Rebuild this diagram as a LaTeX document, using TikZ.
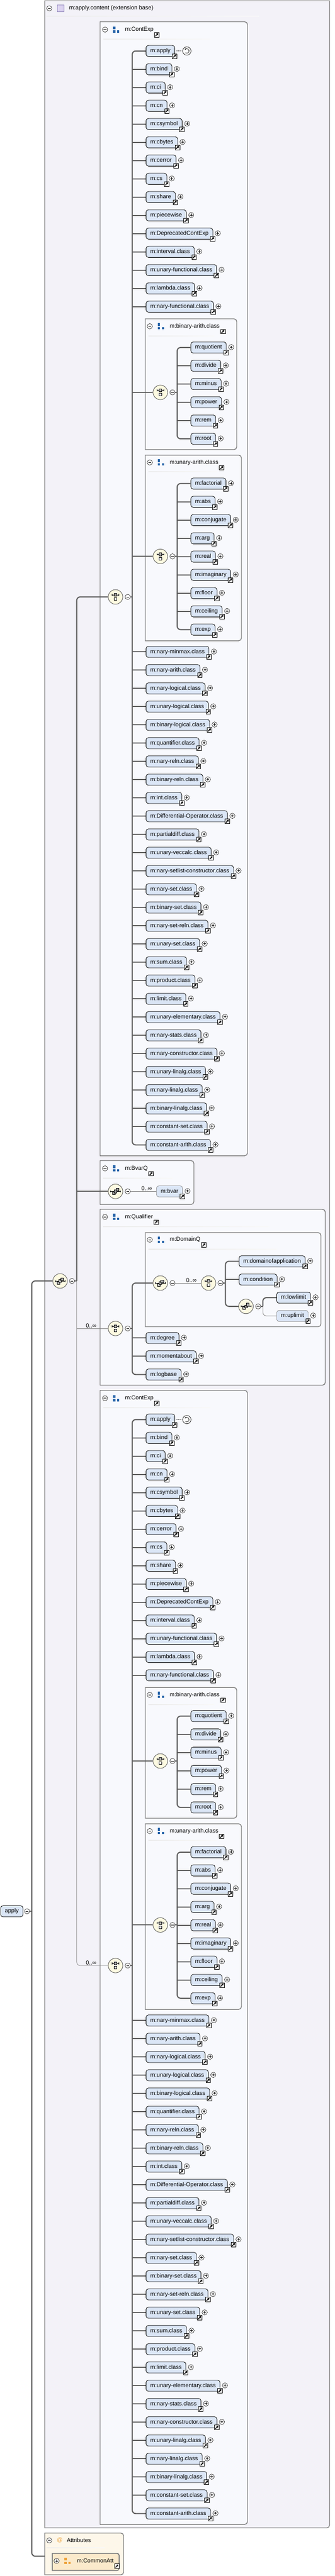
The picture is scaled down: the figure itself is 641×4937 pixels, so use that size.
\documentclass[tikz,border=0pt]{standalone}
\usepackage{fontspec}
\setmainfont{Liberation Sans}
\usetikzlibrary{arrows.meta}

\definecolor{outerfill}{HTML}{F3F2F8}
\definecolor{grpfill}{HTML}{F8F9FD}
\definecolor{elemfill}{HTML}{DBE6F6}
\definecolor{compfill}{HTML}{FDFAE1}
\definecolor{linegray}{HTML}{5F5F5F}
\definecolor{boxgray}{HTML}{808080}
\definecolor{grpblue}{HTML}{2B67AB}
\definecolor{attfill}{HTML}{FDF7EA}
\definecolor{attinner}{HTML}{FBEACB}
\definecolor{attorange}{HTML}{EDA23A}
\definecolor{lavfill}{HTML}{DCD3F0}
\definecolor{lavdraw}{HTML}{8E84B8}

\tikzset{
  every node/.style={font=\fontsize{8.25}{10}\selectfont},
  elem/.style={draw=black, line width=0.6pt, fill=elemfill, rounded corners=3.5pt,
    minimum height=16pt, inner xsep=6.2pt, inner ysep=0pt, text height=6.2pt, text depth=1.8pt, anchor=west},
  optelem/.style={elem, draw=boxgray, line width=0.45pt},
  hdr/.style={anchor=west, inner sep=0pt},
  mult/.style={anchor=south east, inner sep=1pt},
  comp/.style={circle, draw=linegray, line width=0.7pt, fill=compfill, minimum size=21pt, inner sep=0pt},
  minusc/.style={circle, draw=black, fill=white, line width=0.4pt, minimum size=7.5pt, inner sep=0pt,
    path picture={\draw[line width=0.5pt] ([xshift=-2pt]path picture bounding box.center) -- ([xshift=2pt]path picture bounding box.center);}},
  plusc/.style={minusc,
    path picture={\draw[line width=0.5pt] ([xshift=-2pt]path picture bounding box.center) -- ([xshift=2pt]path picture bounding box.center)
      ([yshift=-2pt]path picture bounding box.center) -- ([yshift=2pt]path picture bounding box.center);}},
  conn/.style={draw=linegray, line width=1.6pt, rounded corners=5pt},
  optconn/.style={draw=gray, line width=0.6pt, rounded corners=5pt},
  grpbox/.style={draw=boxgray, line width=1.1pt, fill=grpfill},
  pics/lnk/.style={code={
    \draw[fill=white, line width=0.5pt] (-3.3pt,-3.3pt) rectangle (3.3pt,3.3pt);
    \draw[line width=1.1pt, -{Triangle[length=2.6pt,width=3.4pt]}] (-2pt,-2pt) -- (2.3pt,2.3pt);}},
  pics/grpicon/.style={code={
    \fill[#1] (-4.5pt,0.6pt) rectangle (-1.2pt,4.5pt);
    \fill[#1] (-4.5pt,-4.5pt) rectangle (-1.2pt,-1.2pt);
    \fill[#1] (1.2pt,-4.5pt) rectangle (4.5pt,-1.2pt);}},
  pics/choiceicon/.style={code={
    \draw[line width=0.5pt] (-5pt,3pt) -- (5pt,3pt) (-5pt,1.8pt) -- (-5pt,4.2pt) (5pt,1.8pt) -- (5pt,4.2pt);
    \draw[fill=gray!60, line width=0.45pt] (-1.9pt,1.1pt) rectangle (1.9pt,4.9pt);
    \draw[fill=white, line width=0.45pt] (-1.9pt,-5pt) rectangle (1.9pt,-1.2pt);}},
  pics/seqicon/.style={code={
    \draw[line width=0.5pt] (-7pt,0pt) -- (7pt,0pt) (-7pt,-1.2pt) -- (-7pt,1.2pt) (7pt,-1.2pt) -- (7pt,1.2pt);
    \foreach \d in {-2.6pt,0pt,2.6pt}
      {\draw[fill=gray!60, line width=0.45pt, shift={(\d,\d)}] (-1.9pt,-1.9pt) rectangle (1.9pt,1.9pt);}}},
}

% element box with link icon and plus sign
\newcommand{\elm}[4][elem]{%
  \node[#1] (#2) at #3 {#4};
  \pic at ([xshift=-0.6pt,yshift=1pt]#2.south east) {lnk};
  \node[plusc] (#2-p) at ([xshift=6.8pt,yshift=0.5pt]#2.east) {};}

% group header: minus, icon, title, link
\newcommand{\grphdr}[4]{%
  \node[minusc] (#1-m) at #2 {};
  \pic at ([xshift=16.1pt]#1-m.center) {grpicon=#4};
  \node[hdr] (#1) at ([xshift=28.5pt]#1-m.center) {#3};
  \pic at ([xshift=4.5pt,yshift=-7.5pt]#1.east) {lnk};}

% shaded rule under a header
\newcommand{\hsep}[3]{%
  \shade[left color=gray!15, middle color=gray!90, right color=gray!5] (#1,#3-0.7) rectangle (#2,#3+0.7);}

% the m:ContExp group, #1 prefix, #2 top
\newcommand{\contexp}[2]{%
\begin{scope}[shift={(0,#2)}]
  \draw[grpbox] (191.5,0) [rounded corners=4pt] -- (473.5,0) -- (473.5,2173.3) [sharp corners] -- (191.5,2173.3) -- cycle;
  \grphdr{#1-hd}{(201,15)}{m:ContExp}{grpblue}
  \hsep{197.7}{403}{33.3}
  \node[comp] (#1-ch) at (221,1102.3) {};
  \pic at (#1-ch) {choiceicon};
  \node[minusc] (#1-chm) at (244.4,1102.3) {};
  % first run of elements
  \node[elem] (#1-a1) at (279,56) {m:apply};
  \pic at ([xshift=-0.6pt,yshift=1pt]#1-a1.south east) {lnk};
  \draw[densely dotted, line width=0.9pt] ([xshift=2.2pt]#1-a1.east) -- ([xshift=9.5pt]#1-a1.east);
  \node[circle, draw=black, line width=0.5pt, fill=white, minimum size=12pt, inner sep=0pt] (#1-rec) at ([xshift=17pt]#1-a1.east) {};
  \draw[line width=0.5pt, {Stealth[length=2pt,width=2.2pt]}-] ([shift={(-2.8pt,1.6pt)}]#1-rec.center) arc[start angle=150, end angle=-130, radius=3.2pt];
  \foreach \t [count=\i from 2] in {m:bind,m:ci,m:cn,m:csymbol,m:cbytes,m:cerror,m:cs,m:share,m:piecewise,
      m:DeprecatedContExp,m:interval.class,m:unary-functional.class,m:lambda.class,m:nary-functional.class}
    {\elm{#1-a\i}{(279,{21+35*\i})}{\t}}
  % binary arith
  \draw[grpbox] (278,569.3) [rounded corners=4pt] -- (453,569.3) -- (453,820) [sharp corners] -- (278,820) -- cycle;
  \grphdr{#1-bh}{(286.6,583.6)}{m:binary-arith.class}{grpblue}
  \hsep{284}{410}{602}
  \node[comp] (#1-bc) at (306.8,710.3) {};
  \pic at (#1-bc) {choiceicon};
  \node[minusc] (#1-bcm) at (330,710.3) {};
  \foreach \t [count=\i] in {m:quotient,m:divide,m:minus,m:power,m:rem,m:root}
    {\elm{#1-q\i}{(364.7,{589.3+35*\i})}{\t}}
  \draw[conn] (#1-q1.west) -- (339,624.3) -- (339,799.3) -- (#1-q6.west);
  \foreach \i in {2,...,5} {\draw[conn] (339,{589.3+35*\i}) -- (#1-q\i.west);}
  \draw[conn] (#1-bcm.east) -- (339,710.3);
  % unary arith
  \draw[grpbox] (278,830.6) [rounded corners=4pt] -- (462,830.6) -- (462,1186.3) [sharp corners] -- (278,1186.3) -- cycle;
  \grphdr{#1-uh}{(286.6,844.6)}{m:unary-arith.class}{grpblue}
  \hsep{284}{415}{862.3}
  \node[comp] (#1-uc) at (306.8,1024.6) {};
  \pic at (#1-uc) {choiceicon};
  \node[minusc] (#1-ucm) at (330,1024.6) {};
  \foreach \t [count=\i] in {m:factorial,m:abs,m:conjugate,m:arg,m:real,m:imaginary,m:floor,m:ceiling,m:exp}
    {\elm{#1-u\i}{(364.7,{850+35*\i})}{\t}}
  \draw[conn] (#1-u1.west) -- (339,885) -- (339,1165) -- (#1-u9.west);
  \foreach \i in {2,...,8} {\draw[conn] (339,{850+35*\i}) -- (#1-u\i.west);}
  \draw[conn] (#1-ucm.east) -- (339,1024.6);
  % second run of elements
  \foreach \t [count=\i] in {m:nary-minmax.class,m:nary-arith.class,m:nary-logical.class,m:unary-logical.class,
      m:binary-logical.class,m:quantifier.class,m:nary-reln.class,m:binary-reln.class,m:int.class,
      m:Differential-Operator.class,m:partialdiff.class,m:unary-veccalc.class,m:nary-setlist-constructor.class,
      m:nary-set.class,m:binary-set.class,m:nary-set-reln.class,m:unary-set.class,m:sum.class,m:product.class,
      m:limit.class,m:unary-elementary.class,m:nary-stats.class,m:nary-constructor.class,m:unary-linalg.class,
      m:nary-linalg.class,m:binary-linalg.class,m:constant-set.class,m:constant-arith.class}
    {\elm{#1-b\i}{(279,{1172.6+35*\i})}{\t}}
  % choice trunk
  \draw[conn] (#1-a1.west) -- (253,56) -- (253,2152.6) -- (#1-b28.west);
  \foreach \i in {2,...,15} {\draw[conn] (253,{21+35*\i}) -- (#1-a\i.west);}
  \foreach \i in {1,...,27} {\draw[conn] (253,{1172.6+35*\i}) -- (#1-b\i.west);}
  \draw[conn] (253,710.3) -- (#1-bc.west);
  \draw[conn] (253,1024.6) -- (#1-uc.west);
  \draw[conn] (#1-chm.east) -- (253,1102.3);
\end{scope}}

\begin{document}
\begin{tikzpicture}[x=0.75pt, y=-0.75pt]
\useasboundingbox (0,0) rectangle (641,4937);

% extension base
\draw[draw=boxgray, line width=1.1pt, fill=outerfill] (85.6,1.5) -- (630.6,1.5) [rounded corners=4pt] -- (630.6,4844.7) [sharp corners] -- (85.6,4844.7) -- cycle;
\node[minusc] (o-m) at (94.3,16) {};
\node[draw=lavdraw, fill=lavfill, line width=0.6pt, minimum width=9.5pt, minimum height=9.5pt, inner sep=0pt] (o-ic) at (116,16) {};
\node[hdr] (o-hd) at (132,16) {m:apply.content (extension base)};
\hsep{89}{496}{30.7}

\contexp{A}{41.7}

% m:BvarQ
\draw[grpbox] (191.5,2224.3) [rounded corners=4pt] -- (371,2224.3) -- (371,2308.3) [sharp corners] -- (191.5,2308.3) -- cycle;
\grphdr{bv-hd}{(201,2239.3)}{m:BvarQ}{grpblue}
\hsep{197}{330}{2257.7}
\node[comp] (bv-seq) at (221,2283.3) {};
\pic at (bv-seq) {seqicon};
\node[minusc] (bv-seqm) at (244.4,2283.3) {};
\elm[optelem]{bv-bvar}{(299,2283.3)}{m:bvar}
\draw[optconn] (bv-seqm.east) -- (bv-bvar.west);
\node[mult] (bv-mult) at ([xshift=-5pt]bv-bvar.west) {0..∞};

% m:Qualifier
\draw[grpbox] (191.5,2317.7) [rounded corners=4pt] -- (622.4,2317.7) -- (622.4,2654.7) [sharp corners] -- (191.5,2654.7) -- cycle;
\grphdr{q-hd}{(201,2332.3)}{m:Qualifier}{grpblue}
\hsep{197}{515}{2351}
\node[comp] (q-ch) at (221,2546) {};
\pic at (q-ch) {choiceicon};
\node[minusc] (q-chm) at (244.4,2546) {};
% m:DomainQ
\draw[grpbox] (278,2362.3) [rounded corners=4pt] -- (614,2362.3) -- (614,2542.7) [sharp corners] -- (278,2542.7) -- cycle;
\grphdr{d-hd}{(286.6,2376)}{m:DomainQ}{grpblue}
\hsep{284}{530}{2394.3}
\node[comp] (d-seq) at (306.8,2459) {};
\pic at (d-seq) {seqicon};
\node[minusc] (d-seqm) at (330,2459) {};
\node[comp] (d-ch) at (399,2459) {};
\pic at (d-ch) {choiceicon};
\node[minusc] (d-chm) at (421.8,2459) {};
\draw[optconn] (d-seqm.east) -- (d-ch.west);
\node[mult] (d-mult) at ([xshift=-5pt]d-ch.west) {0..∞};
\elm{d-doa}{(457,2417.3)}{m:domainofapplication}
\elm{d-cond}{(457,2452.3)}{m:condition}
\node[comp] (d-lseq) at (470.6,2503.7) {};
\pic at (d-lseq) {seqicon};
\node[minusc] (d-lseqm) at (494,2503.7) {};
\elm{d-low}{(529,2487)}{m:lowlimit}
\elm[optelem]{d-up}{(529,2522)}{m:uplimit}
\draw[conn] (d-doa.west) -- (431.3,2417.3) -- (431.3,2503.7) -- (d-lseq.west);
\draw[conn] (431.3,2452.3) -- (d-cond.west);
\draw[conn] (d-chm.east) -- (431.3,2459);
\draw[conn] (d-low.west) -- (503,2487) -- (503,2503.7);
\draw[optconn] (503,2503.7) -- (503,2522) -- (d-up.west);
\draw[conn] (d-lseqm.east) -- (503,2503.7);
% rest of m:Qualifier
\elm{q-deg}{(279,2564.3)}{m:degree}
\elm{q-mom}{(279,2599.3)}{m:momentabout}
\elm{q-log}{(279,2634.3)}{m:logbase}
\draw[conn] (d-seq.west) -- (253,2459) -- (253,2634.3) -- (q-log.west);
\draw[conn] (253,2564.3) -- (q-deg.west);
\draw[conn] (253,2599.3) -- (q-mom.west);
\draw[conn] (q-chm.east) -- (253,2546);

\contexp{B}{2664.7}

% attributes
\draw[draw=boxgray, line width=1.1pt, fill=attfill] (85.6,4854.7) [rounded corners=4pt] -- (236.5,4854.7) -- (236.5,4934.7) [sharp corners] -- (85.6,4934.7) -- cycle;
\node[minusc] (att-m) at (94.3,4868.7) {};
\node[hdr, text=attorange] (att-at) at (108.5,4868.7) {@};
\node[hdr] (att-hd) at (127.5,4868.7) {Attributes};
\hsep{89}{200}{4882.7}
\draw[draw=boxgray, line width=1.4pt, fill=attinner] (100,4893.7) [rounded corners=3pt] -- (228,4893.7) -- (228,4926.3) [sharp corners] -- (100,4926.3) -- cycle;
\node[plusc] (ca-p) at (108.3,4908) {};
\pic at (129.4,4908) {grpicon=attorange};
\node[hdr] (ca) at (146.8,4908) {m:CommonAtt};
\pic at ([xshift=4.5pt,yshift=-7.5pt]ca.east) {lnk};

% root element and its sequence
\node[elem] (apply) at (0.8,3663) {apply};
\node[minusc] (apply-m) at (51.7,3663) {};
\coordinate (tr) at (60.8,3663);
\coordinate (att-in) at (85.6,4899);
\node[comp] (seq) at (115,2455) {};
\pic at (seq) {seqicon};
\node[minusc] (seq-m) at (137.7,2455) {};
\draw[conn] (apply-m.east) -- (tr);
\draw[conn] (tr) -- (60.8,2455) -- (seq.west);
\draw[conn] (tr) -- (60.8,4899) -- (att-in);
\draw[conn] (seq-m.east) -- (146.8,2455);
\draw[conn] (146.8,2455) -- (146.8,1144) -- (A-ch.west);
\draw[conn] (146.8,2283.3) -- (bv-seq.west);
\draw[optconn] (146.8,2455) -- (146.8,3767) -- (B-ch.west);
\draw[optconn] (146.8,2546) -- (q-ch.west);
\node[mult] (q-mult) at (186,2546) {0..∞};
\node[mult] (B-mult) at (186,3767) {0..∞};
\end{tikzpicture}
\end{document}
